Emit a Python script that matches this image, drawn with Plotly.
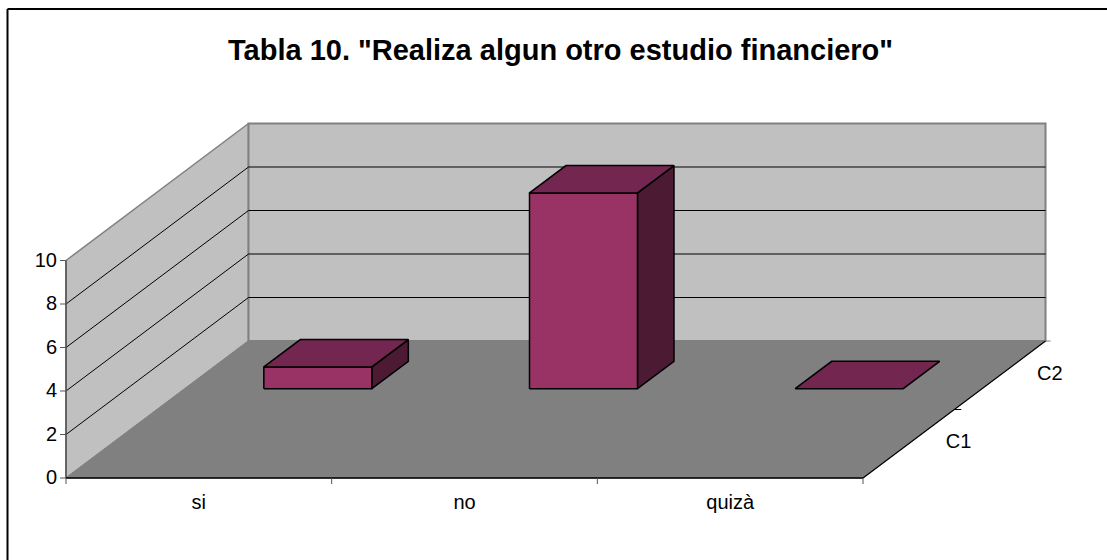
import plotly.graph_objects as go

# ---- data ----
title = 'Tabla 10. "Realiza algun otro estudio financiero"'
categories = ["si", "no", "quizà"]
series_names = ["C1", "C2"]
values_c2 = [1, 9, 0]
value_ticks = [0, 2, 4, 6, 8, 10]

# ---- style ----
FONT = "Liberation Sans"
FRONT, TOP, SIDE = "#993366", "#732650", "#4D1A33"
WALL, FLOOR, EDGE = "#C0C0C0", "#808080", "#808080"

# axis calibration: one category and one value unit in pixels
PX_CAT, PX_VAL = 265.67, 21.75
X0, Y0 = 66.0, 478.0
W, H = 1107, 560
SHEAR_X, SHEAR_Y = 182.5 / PX_CAT, 137.0 / PX_VAL
N = len(categories)
VMAX = max(value_ticks)
BAR_W, BAR_D = 0.4065, 0.2
D_FRONT = 0.652


def p(c, v, d=0.0):
    """oblique projection: category, value, depth -> axis coordinates"""
    return c + d * SHEAR_X, v + d * SHEAR_Y


fig = go.Figure()


def poly(pts, fill, color, width):
    xs, ys = zip(*(pts + pts[:1]))
    fig.add_trace(go.Scatter(x=xs, y=ys, mode="lines", fill="toself", fillcolor=fill,
                             line=dict(color=color, width=width), hoverinfo="skip", showlegend=False))


def seg(a, b, color="#000000", width=1.0):
    fig.add_trace(go.Scatter(x=[a[0], b[0]], y=[a[1], b[1]], mode="lines",
                             line=dict(color=color, width=width), hoverinfo="skip", showlegend=False))


def label(x, y, text, pos="middle center", size=20):
    fig.add_trace(go.Scatter(x=[x], y=[y], mode="text", text=[text], textposition=pos,
                             textfont=dict(family=FONT, size=size, color="#000000"),
                             hoverinfo="skip", showlegend=False))


# walls and floor
poly([p(0, 0), p(0, VMAX), p(0, VMAX, 1), p(0, 0, 1)], WALL, EDGE, 1.5)
poly([p(0, 0, 1), p(0, VMAX, 1), p(N, VMAX, 1), p(N, 0, 1)], WALL, EDGE, 2)
poly([p(0, 0), p(0, 0, 1), p(N, 0, 1), p(N, 0)], FLOOR, EDGE, 1)

# gridlines
for t in value_ticks[1:-1]:
    seg(p(0, t), p(0, t, 1))
    seg(p(0, t, 1), p(N, t, 1))

# axis lines
seg(p(0, 0), p(0, VMAX), "#555555", 1.5)
seg(p(0, 0), p(N, 0), "#000000", 1.5)
seg(p(N, 0), p(N, 0, 1), "#000000", 1.2)

# ticks
for t in value_ticks:
    seg(p(-6 / PX_CAT, t), p(0, t), "#555555", 1)
    label(-9 / PX_CAT, t - 1 / PX_VAL, str(t), "middle left")
for i in range(N + 1):
    seg(p(i, 0), p(i, -6 / PX_VAL), "#555555", 1)
for i, name in enumerate(categories):
    label(i + 0.5, -26 / PX_VAL, name)
seg(p(N, 0, 0.5), p(N + 7 / PX_CAT, 0, 0.5), "#000000", 1)
seg(p(N, 0, 1), p(N + 5 / PX_CAT, 0, 1), EDGE, 1)
for k, name in enumerate(series_names):
    x, y = p(N, 0, 0.25 + 0.5 * k)
    label(x + 50 / PX_CAT, y + 0.5 / PX_VAL, name)

# bars of series C2
for i, v in enumerate(values_c2):
    l, r = i + 0.5 - BAR_W / 2, i + 0.5 + BAR_W / 2
    d0, d1 = D_FRONT, D_FRONT + BAR_D
    if v > 0:
        poly([p(r, 0, d0), p(r, v, d0), p(r, v, d1), p(r, 0, d1)], SIDE, "#000000", 1.5)
        poly([p(l, 0, d0), p(l, v, d0), p(r, v, d0), p(r, 0, d0)], FRONT, "#000000", 1.5)
    poly([p(l, v, d0), p(l, v, d1), p(r, v, d1), p(r, v, d0)], TOP, "#000000", 1.5)

fig.update_layout(
    width=W, height=H, margin=dict(l=0, r=0, t=0, b=0),
    paper_bgcolor="#FFFFFF", plot_bgcolor="#FFFFFF", showlegend=False,
    xaxis=dict(range=[-X0 / PX_CAT, (W - X0) / PX_CAT], visible=False, fixedrange=True),
    yaxis=dict(range=[(Y0 - H) / PX_VAL, Y0 / PX_VAL], visible=False, fixedrange=True),
    annotations=[dict(text=f"<b>{title}</b>", x=560.5 / W, y=1 - 50 / H, xref="paper", yref="paper",
                      showarrow=False, xanchor="center", yanchor="middle",
                      font=dict(family=FONT, size=29, color="#000000"))],
    shapes=[
        dict(type="line", xref="paper", yref="paper", x0=7.5 / W, x1=1, y0=1 - 9 / H, y1=1 - 9 / H,
             line=dict(color="#000000", width=2)),
        dict(type="line", xref="paper", yref="paper", x0=7.5 / W, x1=7.5 / W, y0=0, y1=1 - 9 / H,
             line=dict(color="#000000", width=2)),
    ],
)
fig.write_html("out.html", config={"displayModeBar": False},
               post_script="document.body.style.margin='0';")
